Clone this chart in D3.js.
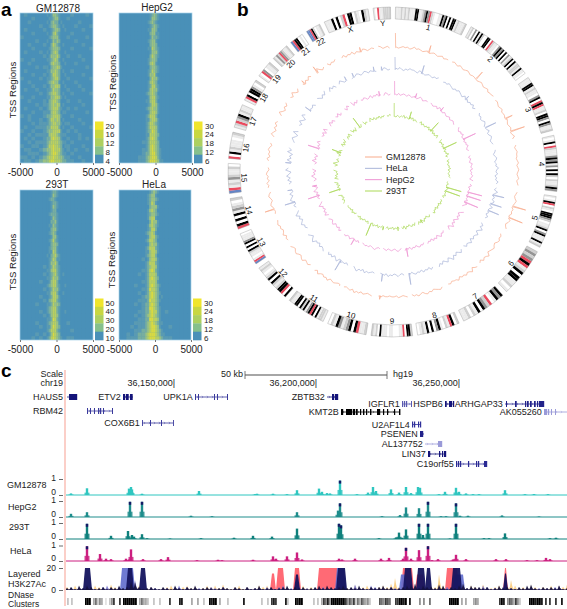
<!DOCTYPE html>
<html><head><meta charset="utf-8">
<style>html,body{margin:0;padding:0;background:#fff}svg{display:block;font-family:"Liberation Sans",Arial,sans-serif}</style>
<script src="https://cdn.jsdelivr.net/npm/d3@7"></script></head><body>
<svg id="c" width="567" height="609"></svg>
<script>
// ---------- panel a ----------
const heatLevels=[0,1,2,3,4,5];
const heatColors=["#4a90b8","#5a9ab2","#78ae9f","#9ac184","#b9cf62","#d8da42"];
const heatTicks=[-5000,0,5000];
const heatColWidths=[520,520,520,520,520,520,520,272,272,272,272,272,272,272,272,272,272,520,520,520,520,520,520,520];
const heatGM=[
"010000010133210000100010","000100001123310001000000","001000010232201000001000","000001001233210100010001",
"010000100123320010000100","000100010134210000100000","100000001233310001000010","000010010132320000010000",
"001000100243210100000100","000100001233320000100001","010001010234310010000000","000000101333420001001000",
"100100011234310100000100","001000001343320010010000","000010110233431000000010","010000011334320100100000",
"000100101244320010000100","100001011234420001000001","001000012343310100010000","000100101334430010001000",
"010010011243320001000100","000001012344320100100001","100100011334431010000000","001000102344320001001000",
"000010112343430100000100","010001012344421001010000","000100111344320110000010","101000122344431000100000",
"001001012443430100001000","000101112344331011000100","010011122444420100100001","100100123344441001010000",
"001011113444321110001000","010100122454431001001010","001011123444432110100000","100110124454432011000100",
"011001233454442101010010","001110123455432110100000","110101234454433211001000","011012334554443221100100"];
const heatHepG2=[
"000000000123210000000000","000000000133210000000000","000000001232100000000000","000000000123210000000000",
"000000001133200000000000","000000000233110000000000","000000000132210000000000","000000001233100000000000",
"000000000233200000000000","000000001143210000000000","000000000133310000000000","000000000243210000000000",
"000000001233200000000000","000000001343100000000000","000000000233210000000000","000000001243210000000000",
"000000001334100000000000","000000000243310000000000","000000001343200000000000","000000001244210000000000",
"000000001343310000000000","000000012343200000000000","000000001344210000000000","000000011344200000000000",
"000000001244310000000000","000000012343310000000000","000000001344310000000000","000000012444200000000000",
"000000011344310000000000","000000012443210000000000","000000012444310000000000","000000012354310000000000",
"000000011444320000000000","000000012454310000000000","000000112444320000000000","000000012454320000000000",
"000000112454321000000000","000000122455321000000000","000001123455421000000000","000001123555431100000000"];
const heat293T=[
"000000000122100000000000","000000000132100000000000","000000001221000000000000","000000000122100000000000",
"000000000132100000000000","000000000122000000000000","000000001222100000000000","000000000132100000000000",
"000000000223100000000000","000000001132100000000000","000000000233100000000000","000000001232000000000000",
"000000000133100000000000","000000001242100000000000","000000000233200000000000","000000001233100000000000",
"000000001143100000000000","000000010234210000000000","000000001243110000000000","000000001334200000000000",
"000000101243210000000000","000000011344210000000000","000000101234210100000000","000000011243310000000000",
"000001001344200000000000","000000012344210010000000","000000101243310000000000","000000011344200100000000",
"000001001244310000000000","000000102344210000000000","000010011243320000000000","000000012344210000000000",
"000001012344210010000000","000000101344310000000000","000000011254210000000000","000010012344310001000000",
"000001011354320000000000","000000012444210000100000","000010101354320000000000","000101012454321001100000"];
const heatHeLa=[
"000000000123210000000000","000000001233100000000000","000000001233210000000000","000000001243100000000000",
"000000000233310000000000","000000001343200000000000","000000001233210000000000","000000001344100000000000",
"000000000243310000000000","000000001343210000000000","000000001244200000000000","000000012343100000000000",
"000000001344210000000000","000000012443200000000000","000000001343310000000000","000000012444210000000000",
"000000011344310000000000","000000012344200000000000","000000101344310000000000","000000012444210000000000",
"000000012344310000000000","000000112454210000000000","000001012444310000000000","000000012454320000000000",
"000000112444310000000000","000010012454321000000000","000000112544320000000000","000001012454321000000000",
"000000122454320100000000","000001112544321000000000","000010122454320000000000","000000122554321000000000",
"000001122454421001000000","000010123454321000000000","000001122554431000000000","000011123454321100000000",
"000101123455431000100000","000011223455432100000000","001012234555432110000000","001112234555443211100000"];
const barTicksGM=[20,16,12,8,4],barTicksHep=[30,24,18,12,6],barTicks293=[50,40,30,20,10],barTicksHeLa=[30,24,18,12,6];
const barColors=["#f0e52c","#c8d742","#add060","#86c08c","#4a90b8"];

// ---------- panel b ----------
const chrNames=["1","2","3","4","5","6","7","8","9","10","11","12","13","14","15","16","17","18","19","20","21","22","X","Y"];
const chrSizes=[249,243,198,191,181,171,159,146,141,135,135,133,115,107,102,90,81,78,59,63,48,51,155,59];
const chrBands=[
"1112121211199112393r21001193909099121112",
"12030919200990r2110393909031290912219110",
"1119912110390r9r1120993093112",
"10190r2111393913090920211293",
"1019r02109993201129039111912",
"2323r9r12909911201",
"93910r23909120211",
"209r12019309091210",
"2990r1100011011190212",
"211r90932139120",
"1221909r931929099112",
"90r99212909210121",
"br101129090931110",
"r90909132102",
"br121321120",
"r0912111012",
"12r2391211",
"1r90993102",
"10r30112",
"2132r32112",
"br99010",
"bbr920112",
"11190902r0990210921",
"10r112222"];
const bandColors={"0":"#ffffff","1":"#ebebeb","2":"#d0d0d0","3":"#949494","9":"#000000","r":"#ea4a5e","b":"#6485c6"};
const trackNames=["GM12878","HeLa","HepG2","293T"];
const trackColors=["#f8ab8b","#a9b5d9","#ee94d2","#abd957"];
const trackRadius=[124,102,77,55];
const wiggleGM="2101212013121012012101201101210210121011201210120112012101201102101210130212012110120121012012102101321021201320132102132013210421302132042131203110212013210213201312012101201101"+"1021032101202130210132012103120130213021032013201302120310213210310213201320421302132014213021320213042031420315203142031520314203142031520213021320130213021032012103201201";
const wiggleHeLa="3213102132210321012102132012132102132103120213021031201320213013201210320132021421302142031520314204152031420315204213042130214203152042031402130213021320213201310213021032101"+"2130214201320213042031320421302153024130214203152041302531402613041520631405130625041352061403152063140213021420315204130214203130213201320213021032013";
const wiggleHepG2="2102012102101201320121021012032102101201210203102130120213102132021032130213204213021320213042031520314203152041302142031302132021320213021320132012102102101321021210120210131"+"1320213021032013204130215204130315204213025130416205130426103152063140516204130531402513042150314021320130213021032012";
const wiggle293T="3102102130210313021021302102130213020130214021302130214021302102130210213021020132102130210213021302142031320214203142031320214031420213021302130213021302130210213021302130212"+"2130421302153024130315204130215204162031420513026140315203140251304215031402130421302130213021320";
const spikesGM=[[1,15],[16.7,8],[41.8,10],[64.6,8],[71,15],[106,14],[111.5,15],[186,4],[205,12],[252.6,10],[322.8,8],[345,5],[315,5]];
const spikesHeLa=[[1,13],[16.3,9],[45,5],[64.4,12],[97.7,12],[103,12],[108,12],[112,12],[171,12],[186,8],[204.6,13],[210.6,12],[219,5],[253,11],[260,5],[275,6],[306.5,7],[327,5],[333,5],[337.5,5],[349.4,5],[353.7,4]];
const spikesHepG2=[[1,14],[16.8,5],[38,5],[65,14],[105,15],[108,15],[112.7,15],[170,9],[204.6,13],[210,7],[252.4,12],[260,5],[287.5,12],[350,5]];
const spikes293T=[[1,14],[17,8],[42.6,12],[65,15],[106,16],[109.8,16],[150,4],[175,4],[190,4],[203,14],[252,12],[290.3,10],[323.5,12]];

// ---------- panel c ----------
const geneNames=["HAUS5","ETV2","UPK1A","RBM42","COX6B1","ZBTB32","IGFLR1","HSPB6","ARHGAP33","KMT2B","AK055260","U2AF1L4","PSENEN","AL137752","LIN37","C19orf55"];
const geneStart=[2,58,130,22,77,262,337,380,440,276,479,347,355,360,363,391];
const geneEnd=[12,68,163,48,108,273,347,389,479,335,502,356,359,377,381,422];
const geneRow=[0,0,0,2,3,0,1,1,1,2,2,3,4,5,6,7];
const geneExons=[
[[4,8]],[[58,2],[61,2.5],[65,2.5]],[[130,.8],[133,.8],[149,.8],[152,.8],[162,.8]],
[[22,.8],[25,.8],[29,.8],[33,1],[35,1],[38,.8],[47,.8]],[[77,.7],[85,.8],[96,.8],[108,.7]],
[[267,2],[270,3]],[[337,1],[339,1],[341,1],[346,.8]],[[380,1.5],[384,3],[388,1]],
[[441,.8],[450,1.5],[460,1],[462,1.5],[465,1.5],[469,1.5],[472,1],[474,5]],
[[276,2],[281,6],[288,2],[291,1.5],[295,1],[298,1.2],[301,1],[305,1.2],[312,3],[318,1],[322,1],[329,1],[334,1.2]],
[[479,3],[483,1],[486,.8],[490,.8]],[[347,1],[349,1],[353,1],[355,1]],[[355,3]],[[373,4]],[[363,2],[374,1],[377,1],[379,2]],
[[391,1],[393,1],[395,1],[403,1],[411,1],[413,1],[419,3]]];
const geneColors=["#14147a","#14147a","#3a3a9c","#3a3a9c","#3a3a9c","#14147a","#5a5ab0","#14147a","#22228a","#000000","#9a9ad8","#30309a","#22228a","#9a9ad8","#14147a","#2a2a94"];
const coordLabels=["36,150,000|","36,200,000|","36,250,000|"];
const signalNames=["GM12878","HepG2","293T","HeLa"];
const signalColors=["#2fc6c0","#1e8d8c","#0f807c","#cc1f80"];
const peaksGM=[[6,.1],[22,.42],[64,.4],[66,.5],[67,.35],[77,.08],[134,.25],[190,.05],[192,.08],[208,.08],[222,.05],[232,.3],[254,.4],[257,.2],[262,.12],[265,.1],[275,.9],[292,.05],[303,.15],[308,.5],[311,.25],[326,.35],[334,.15],[341,.5],[346,.12],[353,.5],[355,.45],[374,.05],[380,.2],[391,.45],[394,.2],[401,.1],[408,.05],[414,.05],[440,.3],[460,.05],[469,.06],[483,.05]];
const peaksHepG2=[[6,.2],[22,.3],[65,.95],[77,.95],[126,.08],[147,.05],[232,.3],[273,.4],[275,.85],[317,.05],[335,.12],[341,.6],[354,.55],[363,.95],[376,.05],[381,.05],[391,.85],[395,.08],[403,.08],[437,.1],[474,.03]];
const peaks293T=[[22,.95],[46,.2],[63,.5],[67,.25],[69,.15],[77,.3],[82,.05],[105,.03],[136,.05],[169,.08],[188,.2],[207,.15],[232,.65],[274,.95],[276,.85],[314,.05],[331,.1],[334,.4],[337,.08],[341,.6],[354,.95],[358,.25],[363,.95],[385,.03],[391,.95],[419,.05],[424,.05],[440,.35],[485,.05],[491,.08]];
const peaksHeLa=[[22,.95],[35,.45],[41,.15],[46,.12],[61,.15],[64,.1],[66,.75],[78,.12],[96,.12],[103,.25],[132,.05],[153,.08],[157,.05],[188,.08],[208,.3],[211,.15],[222,.3],[232,.55],[237,.1],[274,.15],[277,.1],[290,.15],[316,.15],[324,.2],[338,.15],[341,.85],[346,.15],[354,.7],[363,.95],[367,.05],[373,.12],[388,.1],[391,.4],[401,.12],[431,.12],[441,.12],[462,.05],[472,.05],[481,.2],[485,.12]];
// layered H3K27Ac: low-level signal, one character per four bins, values 0-20 (base 36 digits)
const layerOrange="3242130431253234e74213012342134231243425213413124342132214342324341310224234323436b3423123243e42343524325123435942324313242435413";
const layerBlue="1213212103421321892103211203413122103213102103122132134122312021301213025221431203212021543212132201221243120312101231212034102101";
const layerNavy="2314243123132423873123213214213241232123213213124123123413231234243234232421323423123456243325413246243323124232132452132324123223";
const blocksRed=[[207,209,15],[213,218,20],[230,234,20],[254,272,20],[338,347,20],[352,358,14],[382,392,20],[440,441,20]];
const blocksBlue=[[57,68,20],[272,279,20],[336,340,14],[390,398,14]];
const blocksNavy=[[20,25,20],[63,67,20],[76,80,20],[231,233,14],[273,280,20],[340,346,20],[353,359,20],[362,365,20],[388,395,20],[440,441,15]];
const dnaseShades="0202000000999035243010247007099999990353"+"3200200200007000088000030030020098990300"+"0200000008000000002002078700008200098990"+"00002020375849999999746472536434200006547650077998"+"90800004040050000000009999903030003430000000000798"+"046537420000999899807070070080";

// ---------- drawing ----------
const svg=d3.select("#c");
const defs=svg.append("defs");
defs.append("filter").attr("id","soft").append("feGaussianBlur").attr("stdDeviation",.45);
const ink="#222";
function txt(g,s,x,y,size,anchor,extra){const t=g.append("text").attr("x",x).attr("y",y).attr("font-size",size).attr("fill",ink).attr("text-anchor",anchor||"start").text(s);if(extra)t.attr("font-weight",extra);return t;}
txt(svg,"a",1,16,19,"start","bold").attr("fill","#000");
txt(svg,"b",237,16,19,"start","bold").attr("fill","#000");
txt(svg,"c",1,377,19,"start","bold").attr("fill","#000");

const heatPanels=[
 {t:"GM12878",m:heatGM,x0:20,x1:93,y0:13,y1:163,tx:58,ty:12,lx:13,ly:90,ticks:barTicksGM},
 {t:"HepG2",m:heatHepG2,x0:119,x1:192,y0:13,y1:163,tx:157,ty:11,lx:113,ly:83,ticks:barTicksHep},
 {t:"293T",m:heat293T,x0:20,x1:93,y0:190,y1:340,tx:57,ty:188,lx:13,ly:262,ticks:barTicks293},
 {t:"HeLa",m:heatHeLa,x0:119,x1:191,y0:190,y1:340,tx:154,ty:188,lx:112,ly:260,ticks:barTicksHeLa}];
const heatColor=d3.scaleOrdinal(heatLevels,heatColors);
const colEdges=d3.cumsum([-5000,...heatColWidths]);
heatPanels.forEach((p,pi)=>{
  const g=svg.append("g");
  const ax=d3.scaleLinear([-5000,5000],[p.x0,p.x1]);
  const cy=d3.scaleBand(d3.range(p.m.length),[p.y0,p.y1]);
  const clipId="hc"+pi;
  defs.append("clipPath").attr("id",clipId).append("rect").attr("x",p.x0).attr("y",p.y0).attr("width",p.x1-p.x0).attr("height",p.y1-p.y0);
  const inner=g.append("g").attr("clip-path",`url(#${clipId})`).append("g").attr("filter","url(#soft)");
  inner.append("rect").attr("x",p.x0-3).attr("y",p.y0-3).attr("width",p.x1-p.x0+6).attr("height",p.y1-p.y0+6).attr("fill",heatColors[0]);
  p.m.forEach((row,ri)=>{
    inner.selectAll(null).data(row.split("").map((d,i)=>({d:+d,i}))).join("rect")
      .attr("x",d=>ax(colEdges[d.i])).attr("y",cy(ri)).attr("width",d=>ax(colEdges[d.i+1])-ax(colEdges[d.i])+.2).attr("height",cy.bandwidth()+.2)
      .attr("fill",d=>heatColor(d.d));
  });
  g.append("rect").attr("x",p.x0).attr("y",p.y0).attr("width",p.x1-p.x0).attr("height",p.y1-p.y0).attr("fill","none").attr("stroke","#a5d2e8").attr("stroke-width",.7);
  const axisG=g.append("g").attr("transform",`translate(0,${p.y1})`).call(d3.axisBottom(ax).tickValues(heatTicks).tickFormat(d=>String(d)).tickSize(2).tickPadding(4));
  axisG.select(".domain").remove();
  axisG.selectAll("text").attr("font-size",10).attr("font-family","inherit").attr("fill",ink);
  axisG.selectAll("line").attr("stroke","#777");
  txt(g,p.t,p.tx,p.ty,10,"middle");
  txt(g,"TSS Regions",0,0,9.6,"middle").attr("transform",`translate(${p.lx+3},${p.ly}) rotate(-90)`);
  const bx=p.x1+2,by0=p.y1-41.5,bh=41.5/5;
  p.ticks.forEach((v,i)=>{
    g.append("rect").attr("x",bx).attr("y",by0+i*bh).attr("width",8.5).attr("height",bh+.3).attr("fill",barColors[i]);
    txt(g,v,bx+(pi%2?11:10.5),by0+7.2+i*8.7,8);
  });
});

// circos
const cxC=393,cyC=172,rOuter=165,rInner=153,labelR=149;
const gapDeg=1.75,totalMb=d3.sum(chrSizes);
const mbDeg=d3.scaleLinear([0,totalMb],[0,360-gapDeg*chrSizes.length]);
const circ=svg.append("g").attr("transform",`translate(${cxC},${cyC})`);
const rad=d=>d*Math.PI/180;
let acc=gapDeg/2;
const chrs=chrSizes.map((s,i)=>{const a0=acc,a1=acc+mbDeg(s);acc=a1+gapDeg;return {name:chrNames[i],a0,a1,bands:chrBands[i]};});
const arc=d3.arc().innerRadius(rInner).outerRadius(rOuter);
chrs.forEach(c=>{
  const chars=c.bands.split("");
  const bs=d3.scaleLinear([0,chars.length],[c.a0,c.a1]);
  circ.selectAll(null).data(chars.map((k,i)=>({k,i}))).join("path")
    .attr("d",d=>arc({startAngle:rad(bs(d.i)),endAngle:rad(bs(d.i+1))}))
    .attr("fill",d=>bandColors[d.k]);
  circ.append("path").attr("d",arc({startAngle:rad(c.a0),endAngle:rad(c.a1)})).attr("fill","none").attr("stroke","#999").attr("stroke-width",.4);
  const m=(c.a0+c.a1)/2,flip=m>90&&m<270;
  const px=labelR*Math.sin(rad(m)),py=-labelR*Math.cos(rad(m));
  circ.append("text").attr("transform",`translate(${px},${py}) rotate(${flip?m-180:m})`).attr("text-anchor","middle").attr("dy","0.35em")
    .attr("font-size",8).attr("fill","#111").text(c.name);
});
const wiggles=[wiggleGM,wiggleHeLa,wiggleHepG2,wiggle293T];
const spikes=[spikesGM,spikesHeLa,spikesHepG2,spikes293T];
const lineRad=d3.lineRadial().angle(d=>rad(d.a)).radius(d=>d.r);
trackNames.forEach((n,ti)=>{
  const w=wiggles[ti].split("");
  const ang=d3.scaleLinear([0,w.length],[0,360]);
  const val=d3.scaleLinear([0,10],[trackRadius[ti],trackRadius[ti]+10]);
  let pts=w.map((d,i)=>({a:ang(i)+.5,r:val(+d*.9)}));
  spikes[ti].forEach(([a,h])=>{
    pts.push({a:a-.22,r:val(.4)},{a:a,r:val(h)},{a:a+.22,r:val(.4)});
  });
  pts.sort((p,q)=>p.a-q.a);
  chrs.forEach(c=>{
    const seg=pts.filter(p=>p.a>=c.a0&&p.a<=c.a1);
    if(seg.length>1)circ.append("path").attr("d",lineRad(seg)).attr("fill","none").attr("stroke",trackColors[ti]).attr("stroke-width",.7);
  });
  const ly=d3.scalePoint(d3.range(4),[157,191])(ti);
  svg.append("line").attr("x1",365).attr("x2",382).attr("y1",ly).attr("y2",ly).attr("stroke",trackColors[ti]).attr("stroke-width",1);
  txt(svg,n,386,ly+3,9);
});

// panel c
const gc=svg.append("g");
const bin=d3.scaleLinear([0,502],[65,567]);
gc.append("rect").attr("x",64).attr("y",370).attr("width",2).attr("height",236).attr("fill","#fbcfc8");
txt(gc,"Scale",63,377,9,"end");txt(gc,"chr19",63,386,9,"end");
txt(gc,"50 kb",243,377,9,"end");txt(gc,"hg19",393,377,9);
gc.append("line").attr("x1",bin(180)).attr("x2",bin(322)).attr("y1",375).attr("y2",375).attr("stroke","#888").attr("stroke-width",1.6);
[180,322].forEach(b=>gc.append("line").attr("x1",bin(b)).attr("x2",bin(b)).attr("y1",371).attr("y2",379).attr("stroke","#555").attr("stroke-width",.8));
coordLabels.forEach((s,i)=>txt(gc,s,[175,317,460][i],386,9,"end"));
const rowY=d3.scaleOrdinal(d3.range(8),[397,404,412,424.5,434,444,454,464]);
geneNames.forEach((n,i)=>{
  const y=(n==="RBM42")?411:(n==="COX6B1")?423:rowY(geneRow[i]);
  const col=geneColors[i];
  gc.append("line").attr("x1",bin(geneStart[i])).attr("x2",bin(geneEnd[i])).attr("y1",y).attr("y2",y).attr("stroke",col).attr("stroke-width",.8);
  d3.range(geneStart[i]+3,geneEnd[i]-1,5).forEach(b=>gc.append("path").attr("d",`M${bin(b)-1},${y-1.2}L${bin(b)},${y}L${bin(b)-1},${y+1.2}`).attr("fill","none").attr("stroke",col).attr("stroke-width",.4));
  gc.selectAll(null).data(geneExons[i]).join("rect")
    .attr("x",d=>bin(d[0])).attr("width",d=>bin(d[1])-bin(0)+.2)
    .attr("y",y-3).attr("height",6).attr("fill",col);
  const labelEnd=bin(geneStart[i])-2.2;
  const lx={HAUS5:63,RBM42:63}[n]||labelEnd;
  txt(gc,n,lx,y+3.2,9,"end");
});
// signal tracks
const signalPeaks=[peaksGM,peaksHepG2,peaks293T,peaksHeLa];
const signalBase=[495,517,539,561],signalOne=[479,501,523,545.5];
const signalLabel=[[7,488],[8,510],[9,530],[10,554]];
function styleAxis(ax){
  ax.select(".domain").remove();ax.selectAll("line").attr("stroke","#444").attr("stroke-width",.8);
  ax.selectAll("text").attr("font-size",8.5).attr("font-family","inherit").attr("fill",ink);
}
signalNames.forEach((n,i)=>{
  const y=d3.scaleLinear([0,1],[signalBase[i],signalOne[i]]);
  const col=signalColors[i];
  const ax=gc.append("g").attr("transform","translate(63,0)").call(d3.axisLeft(y).tickValues([0,1]).tickFormat(d=>String(d)).tickSize(4).tickPadding(3));
  styleAxis(ax);
  ax.selectAll("text").attr("transform",d=>d===0?"translate(0,-3.5)":"translate(0,-1)");
  txt(gc,n,signalLabel[i][0],signalLabel[i][1],9);
  gc.append("line").attr("x1",66).attr("x2",567).attr("y1",y(0)).attr("y2",y(0)).attr("stroke",col).attr("stroke-width",1);
  signalPeaks[i].forEach(([b,v])=>{
    gc.append("rect").attr("x",bin(b-2.5)).attr("width",bin(5)-bin(0)).attr("y",y(v*.35)).attr("height",y(0)-y(v*.35)).attr("fill",col).attr("opacity",.85);
    gc.append("rect").attr("x",bin(b-1.2)).attr("width",bin(2.4)-bin(0)).attr("y",y(v)).attr("height",y(0)-y(v)).attr("fill",col);
    if(v>=.85)gc.append("rect").attr("x",bin(b-1.2)).attr("width",bin(2.4)-bin(0)).attr("y",y(v)).attr("height",3).attr("fill","#161a66");
  });
});
// layered track
const yL=d3.scaleLinear([0,20],[590,568]);
const axL=gc.append("g").attr("transform","translate(63,0)").call(d3.axisLeft(yL).tickValues([0,20]).tickFormat(d=>String(d)).tickSize(4).tickPadding(3));
styleAxis(axL);
txt(gc,"Layered",8,577,9);txt(gc,"H3K27Ac",8,587,9);
txt(gc,"DNase",8,598,8.5);txt(gc,"Clusters",8,607,8.5);
const areaL=d3.area().x(d=>bin(d[0])).y0(yL(0)).y1(d=>yL(d[1])).curve(d3.curveLinear);
function noise(str,col,op){
  const pts=str.split("").flatMap((c,i)=>{const v=parseInt(c,36);return [[i*4+1,v*.35],[i*4+2,v],[i*4+3,v*.5],[i*4+4,v*.15]];});
  gc.append("path").attr("d",areaL(pts)).attr("fill",col).attr("opacity",op);
}
function blocks(list,col,op){
  list.forEach(([a,b,v])=>gc.append("path").attr("d",areaL([[a-2,0],[a,v],[b,v],[b+2,0]])).attr("fill",col).attr("opacity",op));
}
noise(layerOrange,"#f9c46c",.8);
blocks(blocksRed,"#ff5a66",.9);
noise(layerBlue,"#6a68c8",.85);
blocks(blocksBlue,"#5f6ccd",.9);
blocks(blocksNavy,"#14145e",.95);
noise(layerNavy,"#15123f",.95);
// DNase clusters
const shade=d3.scaleLinear([0,9],["#ffffff","#000000"]);
const dn=dnaseShades.split("").map((c,i)=>({c:+c,i})).filter(d=>d.c>0);
gc.selectAll(null).data(dn).join("rect")
  .attr("x",d=>bin(d.i*2)).attr("width",bin(1.8)-bin(0)).attr("y",598).attr("height",7).attr("fill",d=>shade(d.c));
</script></body></html>
